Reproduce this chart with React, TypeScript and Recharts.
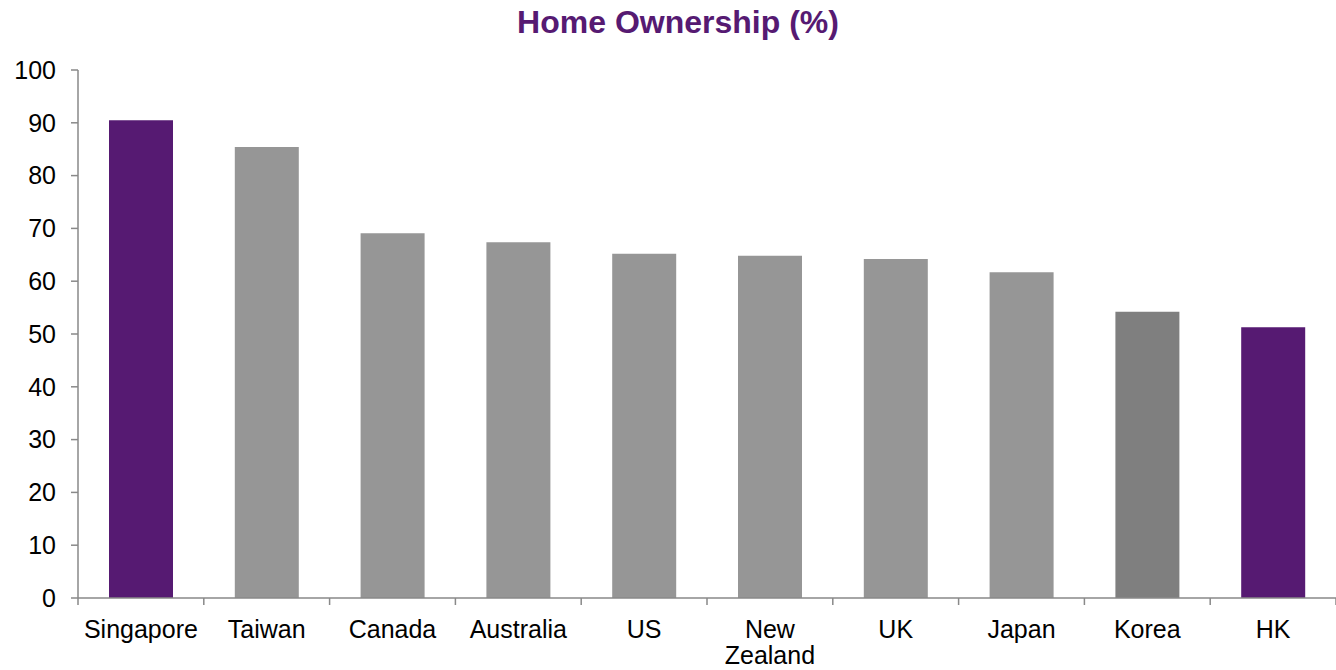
import React from "react";
import { BarChart, Bar, XAxis, YAxis, Cell, Text } from "recharts";

const categories = ["Singapore", "Taiwan", "Canada", "Australia", "US", "New Zealand", "UK", "Japan", "Korea", "HK"];
const ownership = [90.5, 85.4, 69.1, 67.4, 65.2, 64.8, 64.2, 61.7, 54.2, 51.3];
const yTicks = [0, 10, 20, 30, 40, 50, 60, 70, 80, 90, 100];
const highlighted = ["Singapore", "HK"];
const darker = ["Korea"];

const W = 1336;
const H = 670;
const PLOT_LEFT = 78;
const PLOT_RIGHT = 0;
const BAND = (W - PLOT_LEFT - PLOT_RIGHT) / categories.length;
const FONT = "'Liberation Sans', Arial, sans-serif";
const PURPLE = "#561a72";
const AXIS = "#898989";

const data = categories.map((c, i) => ({ country: c, value: ownership[i] }));

function colorFor(c: string) {
  if (highlighted.includes(c)) return PURPLE;
  if (darker.includes(c)) return "#7f7f7f";
  return "#969696";
}

function XTick(props: any) {
  const { x, y, payload, index } = props;
  const left = x - BAND / 2;
  return (
    <g>
      <line x1={left} x2={left} y1={y} y2={y + 7} stroke={AXIS} strokeWidth={1.5} />
      {index === categories.length - 1 && (
        <line x1={left + BAND} x2={left + BAND} y1={y} y2={y + 7} stroke={AXIS} strokeWidth={1.5} />
      )}
      <Text
        x={x}
        y={y + 22}
        width={40}
        textAnchor="middle"
        verticalAnchor="start"
        lineHeight="1.04em"
        fontSize={25}
        fontFamily={FONT}
        fill="#000"
      >
        {payload.value}
      </Text>
    </g>
  );
}

export default function App() {
  return (
    <div style={{ position: "absolute", left: 0, top: 0, width: W, height: H, background: "#fff" }}>
      <svg width={W} height={50} style={{ position: "absolute", left: 0, top: 0 }}>
        <text x={678} y={33} textAnchor="middle" fontFamily={FONT} fontWeight="bold" fontSize={32} fill={PURPLE}>
          Home Ownership (%)
        </text>
      </svg>
      <BarChart
        width={W}
        height={H}
        data={data}
        margin={{ top: 70, right: PLOT_RIGHT, bottom: 0, left: 0 }}
        barSize={64}
      >
        <XAxis
          dataKey="country"
          interval={0}
          height={72}
          tickSize={0}
          tickMargin={0}
          tickLine={false}
          axisLine={{ stroke: AXIS, strokeWidth: 1.5 }}
          tick={<XTick />}
        />
        <YAxis
          width={PLOT_LEFT}
          domain={[0, 100]}
          ticks={yTicks}
          interval={0}
          tickSize={7}
          tickMargin={15}
          axisLine={{ stroke: AXIS, strokeWidth: 1.5 }}
          tickLine={{ stroke: AXIS, strokeWidth: 1.5 }}
          tick={{ fontSize: 25, fontFamily: FONT, fill: "#000" }}
        />
        <Bar dataKey="value" isAnimationActive={false}>
          {data.map((d) => (
            <Cell key={d.country} fill={colorFor(d.country)} />
          ))}
        </Bar>
      </BarChart>
    </div>
  );
}
